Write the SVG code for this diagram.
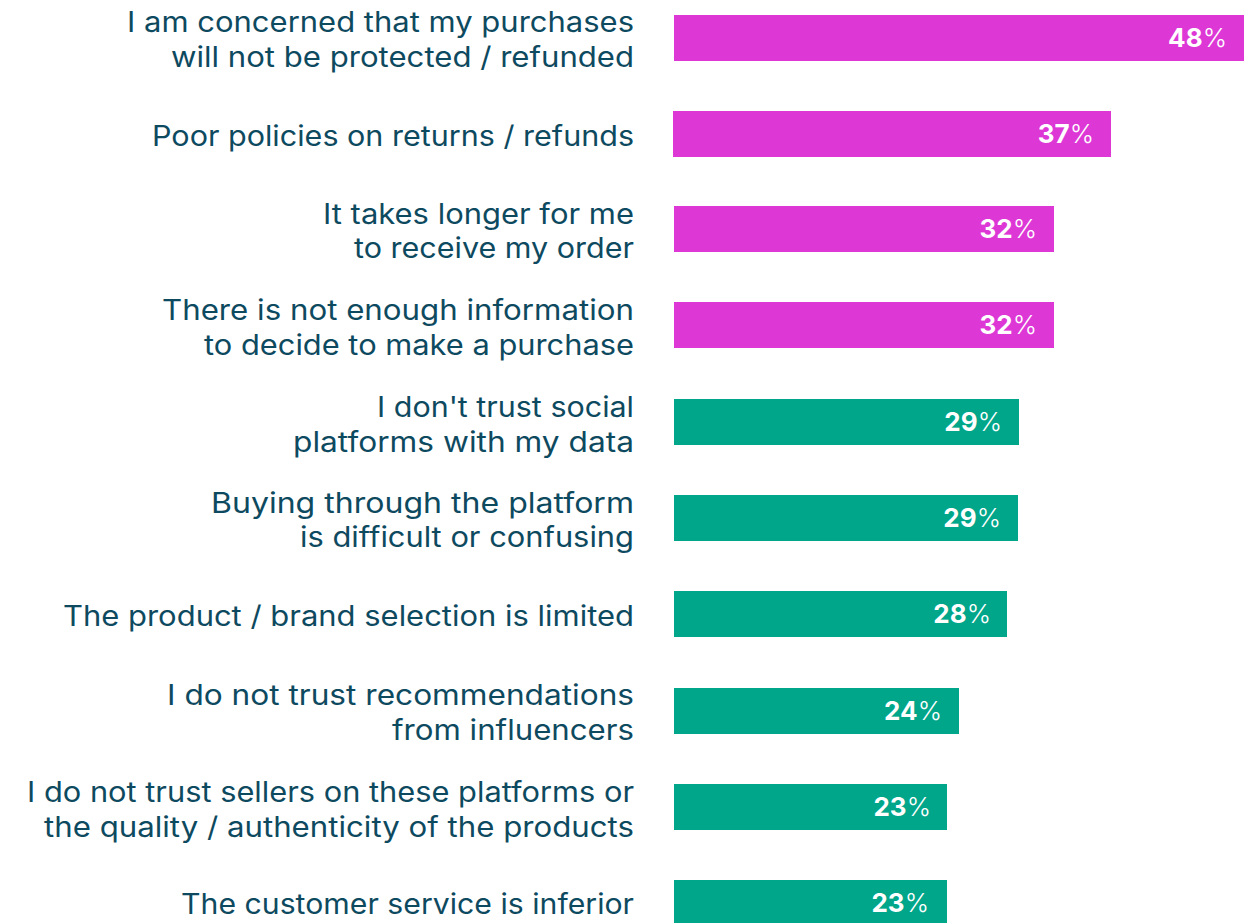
<svg xmlns="http://www.w3.org/2000/svg" width="1259" height="923" viewBox="0 0 1259 923">
<style>
.lbl{font-family:Inter,"Open Sans","Liberation Sans",sans-serif;font-size:28px;fill:#0E4A5F;text-anchor:end}
.pct{font-family:Inter,"Open Sans","Liberation Sans",sans-serif;font-size:26px;fill:#ffffff;text-anchor:end}
.pct .n{font-weight:700}
.pct .p{font-weight:300}
.mag{fill:#DD37D6}
.teal{fill:#00A68A}
</style>
<rect width="1259" height="923" fill="#ffffff"/>
<g id="row1">
<text class="lbl" x="634" y="32" textLength="507" lengthAdjust="spacingAndGlyphs">I am concerned that my purchases</text>
<text class="lbl" x="634" y="67" textLength="463" lengthAdjust="spacingAndGlyphs">will not be protected / refunded</text>
<rect class="mag" x="674" y="15" width="570" height="46"/>
<text class="pct" x="1227" y="47"><tspan class="n">48</tspan><tspan class="p">%</tspan></text>
</g>
<g id="row2">
<text class="lbl" x="634" y="146" textLength="482" lengthAdjust="spacingAndGlyphs">Poor policies on returns / refunds</text>
<rect class="mag" x="673" y="111" width="438" height="46"/>
<text class="pct" x="1094" y="143"><tspan class="n">37</tspan><tspan class="p">%</tspan></text>
</g>
<g id="row3">
<text class="lbl" x="634" y="224" textLength="311" lengthAdjust="spacingAndGlyphs">It takes longer for me</text>
<text class="lbl" x="634" y="258" textLength="280" lengthAdjust="spacingAndGlyphs">to receive my order</text>
<rect class="mag" x="674" y="206" width="380" height="46"/>
<text class="pct" x="1037" y="238"><tspan class="n">32</tspan><tspan class="p">%</tspan></text>
</g>
<g id="row4">
<text class="lbl" x="634" y="320" textLength="472" lengthAdjust="spacingAndGlyphs">There is not enough information</text>
<text class="lbl" x="634" y="355" textLength="430" lengthAdjust="spacingAndGlyphs">to decide to make a purchase</text>
<rect class="mag" x="674" y="302" width="380" height="46"/>
<text class="pct" x="1037" y="334"><tspan class="n">32</tspan><tspan class="p">%</tspan></text>
</g>
<g id="row5">
<text class="lbl" x="634" y="417" textLength="257" lengthAdjust="spacingAndGlyphs">I don't trust social</text>
<text class="lbl" x="634" y="452" textLength="341" lengthAdjust="spacingAndGlyphs">platforms with my data</text>
<rect class="teal" x="674" y="399" width="345" height="46"/>
<text class="pct" x="1002" y="431"><tspan class="n">29</tspan><tspan class="p">%</tspan></text>
</g>
<g id="row6">
<text class="lbl" x="634" y="513" textLength="423" lengthAdjust="spacingAndGlyphs">Buying through the platform</text>
<text class="lbl" x="634" y="547" textLength="334" lengthAdjust="spacingAndGlyphs">is difficult or confusing</text>
<rect class="teal" x="674" y="495" width="344" height="46"/>
<text class="pct" x="1001" y="527"><tspan class="n">29</tspan><tspan class="p">%</tspan></text>
</g>
<g id="row7">
<text class="lbl" x="634" y="626" textLength="571" lengthAdjust="spacingAndGlyphs">The product / brand selection is limited</text>
<rect class="teal" x="674" y="591" width="333" height="46"/>
<text class="pct" x="991" y="623"><tspan class="n">28</tspan><tspan class="p">%</tspan></text>
</g>
<g id="row8">
<text class="lbl" x="634" y="705" textLength="467" lengthAdjust="spacingAndGlyphs">I do not trust recommendations</text>
<text class="lbl" x="634" y="740" textLength="242" lengthAdjust="spacingAndGlyphs">from influencers</text>
<rect class="teal" x="674" y="688" width="285" height="46"/>
<text class="pct" x="942" y="720"><tspan class="n">24</tspan><tspan class="p">%</tspan></text>
</g>
<g id="row9">
<text class="lbl" x="634" y="802" textLength="607" lengthAdjust="spacingAndGlyphs">I do not trust sellers on these platforms or</text>
<text class="lbl" x="634" y="837" textLength="590" lengthAdjust="spacingAndGlyphs">the quality / authenticity of the products</text>
<rect class="teal" x="674" y="784" width="273" height="46"/>
<text class="pct" x="931" y="816"><tspan class="n">23</tspan><tspan class="p">%</tspan></text>
</g>
<g id="row10">
<text class="lbl" x="634" y="914" textLength="453" lengthAdjust="spacingAndGlyphs">The customer service is inferior</text>
<rect class="teal" x="674" y="880" width="273" height="46"/>
<text class="pct" x="929" y="912"><tspan class="n">23</tspan><tspan class="p">%</tspan></text>
</g>
<g id="connectors"/>
</svg>
